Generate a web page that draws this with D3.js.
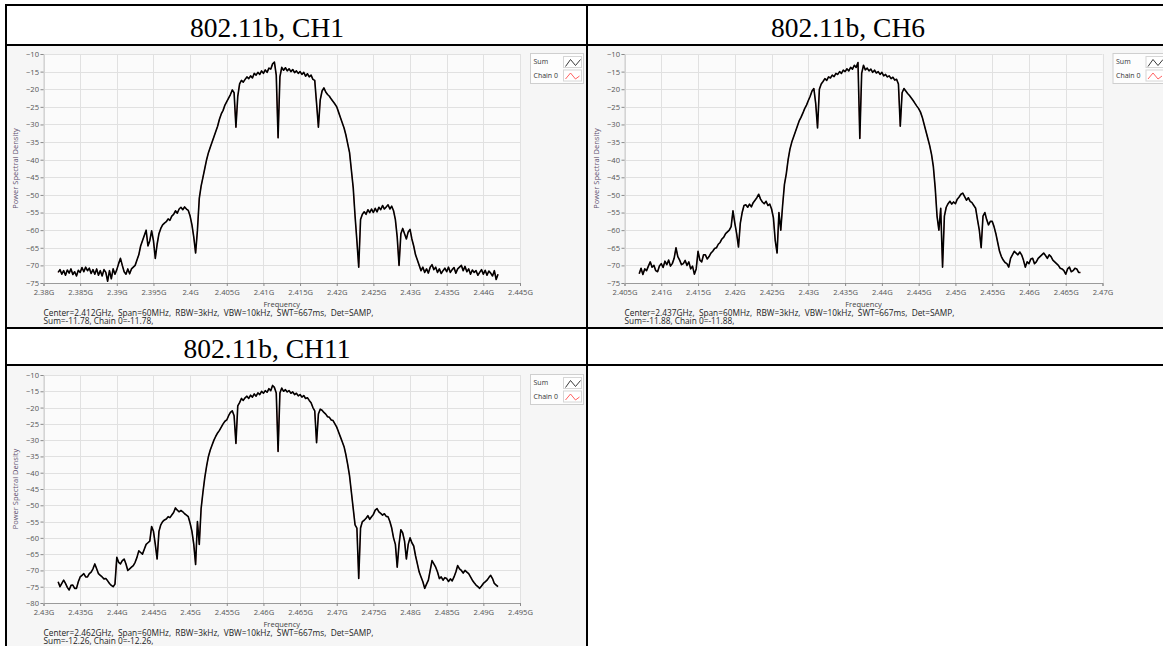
<!DOCTYPE html>
<html>
<head>
<meta charset="utf-8">
<script src="https://cdn.jsdelivr.net/npm/d3@7"></script>
<style>
  html, body { margin: 0; padding: 0; background: #ffffff; }
  svg { display: block; }
</style>
</head>
<body>
<svg id="chart" width="1163" height="646"></svg>
<script>
// ---- data -------------------------------------------------------------
const panelTitles = ["802.11b, CH1", "802.11b, CH6", "802.11b, CH11"];
const centerGHz = [2.412, 2.437, 2.462];
const spanGHz = 0.060;
const sweepStepGHz = 0.00025;

const xTicksCH1 = [2.38, 2.385, 2.39, 2.395, 2.4, 2.405, 2.41, 2.415, 2.42, 2.425, 2.43, 2.435, 2.44, 2.445];
const xTicksCH6 = [2.405, 2.41, 2.415, 2.42, 2.425, 2.43, 2.435, 2.44, 2.445, 2.45, 2.455, 2.46, 2.465, 2.47];
const xTicksCH11 = [2.43, 2.435, 2.44, 2.445, 2.45, 2.455, 2.46, 2.465, 2.47, 2.475, 2.48, 2.485, 2.49, 2.495];
const yTicksCH1 = [-10, -15, -20, -25, -30, -35, -40, -45, -50, -55, -60, -65, -70, -75];
const yTicksCH6 = [-10, -15, -20, -25, -30, -35, -40, -45, -50, -55, -60, -65, -70, -75];
const yTicksCH11 = [-10, -15, -20, -25, -30, -35, -40, -45, -50, -55, -60, -65, -70, -75, -80];

const infoCH1 = ["Center=2.412GHz,  Span=60MHz,  RBW=3kHz,  VBW=10kHz,  SWT=667ms,  Det=SAMP,", "Sum=-11.78, Chain 0=-11.78,"];
const infoCH6 = ["Center=2.437GHz,  Span=60MHz,  RBW=3kHz,  VBW=10kHz,  SWT=667ms,  Det=SAMP,", "Sum=-11.88, Chain 0=-11.88,"];
const infoCH11 = ["Center=2.462GHz,  Span=60MHz,  RBW=3kHz,  VBW=10kHz,  SWT=667ms,  Det=SAMP,", "Sum=-12.26, Chain 0=-12.26,"];

const legendNames = ["Sum", "Chain 0"];

// power spectral density, one sample every 0.25 MHz across the 60 MHz span
const psdCH1 = [
  -72, -71.2, -72.5, -71.5,   -72.8, -71.3, -72.2, -71,   -72.6, -71.8, -73, -71.4,
  -72, -70.6, -71.8, -70.5,   -71.5, -70.8, -72.3, -71.2, -72.5, -71, -72.8, -71.5,
  -73, -71.2, -72, -74.5,     -71.5, -73.8, -71, -72.5,   -71.2, -69.5, -68, -70,
  -71.8, -72.5, -71, -72.4,   -71, -70.5, -70, -68.5,     -67, -64.5, -63, -61.5,
  -60, -64.5, -63, -60.2,     -63, -68, -64, -61,         -59.5, -58.5, -58, -57.6,
  -56.8, -57.2, -56, -55.5,   -54.5, -55.2, -54, -53.5,   -54.2, -53.4, -54, -54.4,
  -56, -58.5, -62, -66.5,     -60, -51, -47.5, -45,       -42.5, -40, -38, -36.5,
  -35, -33.5, -32, -30.5,     -28.5, -27, -26, -24.5,     -23.5, -22.5, -21.5, -20.2,
  -21, -30.8, -22, -18.5,     -17.5, -18, -17.2, -16.5,   -17, -16.2, -16.8, -15.5,
  -16, -15.2, -15.8, -14.8,   -15.5, -14.5, -15.2, -14,   -14.3, -12.8, -12.3, -16,
  -33.8, -16.5, -13.8, -14.6, -13.9, -14.8, -14.2, -15,   -14.4, -15.3, -14.8, -15.5,
  -15, -15.8, -15.2, -16.3,   -15.6, -16.5, -16, -17.2,   -17.5, -24, -30.8, -23,
  -20.5, -19.6, -20.8, -21.5, -22, -22.8, -23.5, -24.2,   -25, -26.5, -28, -29.5,
  -31, -33, -35.5, -38,       -43, -48, -56, -63,         -70.5, -57, -55.5, -54.8,
  -55.5, -54.2, -55, -54,     -55, -53.8, -54.8, -53.5,   -54.2, -53, -54, -53.4,
  -52.8, -54, -53.2, -54.5,   -57, -62, -70, -61,         -59.5, -61, -62.5, -60.5,
  -59.8, -62.5, -64.5, -67,   -68.5, -70, -71.5, -70.5,   -72, -71, -72.2, -70.5,
  -69.8, -71.2, -70.5, -72,   -71, -72.3, -71.5, -70.8,   -71.8, -70.5, -72, -71.2,
  -70.6, -72.2, -71, -70.5,   -70, -71.5, -70.3, -71.8,   -71, -72.5, -71.3, -72,
  -71.5, -72.8, -72, -71.2,   -72.5, -71.4, -72.8, -71.6, -72.2, -73, -71.5, -74,
  -72.5
];

const psdCH6 = [
  -72.4, -70.8, -72.6, -71,   -71.5, -70.2, -69, -70.5,   -70, -71.5, -71.8, -70.2,
  -69.5, -70.6, -68.8, -69.8, -68.5, -70.2, -69.5, -68,   -65, -67.5, -68.5, -69.8,
  -69.5, -68.6, -70, -69,     -71, -70.2, -72.5, -71,     -66, -68.5, -69, -67,
  -67, -68.2, -67.5, -66.5,   -66, -65.2, -65, -64,       -63.5, -62.5, -62, -61,
  -60.5, -60, -59, -54.5,     -58, -61, -64.8, -58,       -55, -53, -52.8, -53.5,
  -52.6, -53.4, -52.2, -51.5, -50.8, -49.8, -51.2, -52,   -52.5, -51.8, -53, -52.6,
  -54, -56.5, -63, -66.5,     -55, -60, -53, -47,         -44, -40, -37, -35,
  -33.5, -32, -30.5, -29,     -28, -26.8, -25.5, -24.5,   -23.2, -22, -20.5, -19.8,
  -24, -31, -20, -18.5,       -17.8, -17, -17.5, -16.5,   -16.8, -16, -16.4, -15.5,
  -15.8, -15, -15.5, -14.6,   -15, -14.2, -14.8, -13.8,   -14.3, -13.2, -13.8, -12.4,
  -34, -15.5, -13.2, -14.5,   -14, -14.8, -14.3, -15.2,   -14.6, -15.4, -15, -15.8,
  -15.2, -16.2, -15.8, -16.5, -16.2, -17, -16.6, -17.4,   -17.2, -18.5, -30.5, -21,
  -19.8, -20.5, -21.2, -21.8, -22.5, -23.2, -24, -24.8,   -25.5, -26.5, -28, -30,
  -32, -34, -36, -38.5,       -42, -48, -56, -60,         -53.8, -70.5, -56, -53.5,
  -52.5, -51.8, -52.6, -52,   -52.5, -51.2, -50.6, -49.8, -49.5, -50.5, -51.5, -50.8,
  -51.8, -52.2, -53, -53.8,   -57, -60, -65, -56,         -55, -57, -58.5, -57.5,
  -57.5, -59, -61, -63.5,     -66, -67.5, -68.5, -69.2,   -69.5, -70.5, -68, -67,
  -66, -66.5, -67, -66.2,     -67, -68.5, -70.5, -69,     -69.5, -68.2, -68, -69.5,
  -69, -68, -67.5, -67,       -66.5, -67.2, -68, -67,     -67.5, -68.5, -69, -69.5,
  -70, -70.8, -71, -71.5,     -72.5, -71, -70.5, -71.8,   -71.5, -70.8, -71, -72,
  -72
];

const psdCH11 = [
  -73.5, -75, -74, -73,       -74, -75.2, -76, -74.6,     -74.5, -75.5, -75.5, -73.5,
  -72, -71.5, -71, -72,       -72, -71, -70.5, -69.5,     -68, -69.5, -71, -71.5,
  -72, -72.6, -72.5, -73.2,   -74, -74.6, -75, -74.2,     -66, -67.5, -68, -67,
  -66.5, -68, -70, -69.5,     -69, -68.5, -67.5, -66,     -64, -64.5, -65, -63.5,
  -62, -61.5, -61, -56.5,     -58, -62, -66.5, -58,       -56, -55, -54.5, -54.2,
  -53.5, -53.8, -53, -52.2,   -50.8, -51.5, -52, -51.6,   -52, -52.6, -53, -53.5,
  -55.5, -58, -62, -68.2,     -55, -62, -51, -46,         -41.5, -38, -35, -33,
  -31.5, -30, -28.8, -27.8,   -27, -26, -25, -24.2,       -23.8, -22.5, -21.5, -21,
  -22.5, -31, -19.5, -18.5,   -17.2, -17.8, -17, -16.5,   -17.2, -16.2, -16.8, -15.8,
  -16.5, -15.5, -16, -15,     -15.6, -14.8, -15.3, -14.2, -14.8, -13.2, -13.8, -15.5,
  -33.5, -15.5, -14, -15,     -14.5, -15.2, -14.8, -15.6, -15.2, -16, -15.6, -16.4,
  -16, -16.8, -16.3, -17.2,   -17, -17.8, -18.5, -20,     -21, -30.8, -22, -20.5,
  -20.8, -21.5, -22, -22.8,   -23, -23.8, -24, -25,       -26, -27.5, -29, -30.5,
  -32, -34.5, -37.5, -41,     -46, -51, -56, -57,         -72.5, -57, -55, -54.6,
  -54, -53.2, -54.3, -53.5,   -52.8, -51.5, -51, -52,     -52.5, -53, -52.6, -53.4,
  -53.5, -55, -57, -60,       -62, -69, -62, -57.5,       -58.5, -61, -66.5, -62,
  -60, -61.5, -62.5, -65.5,   -68, -70.5, -72, -73.5,     -75.5, -74.2, -73, -70,
  -67, -68, -69, -70.5,       -72.5, -72, -73, -72.2,     -72.5, -73.4, -72.6, -73.2,
  -72, -70.5, -68.5, -69.5,   -70, -70.8, -70, -70.5,     -71, -72, -73, -73.8,
  -74.5, -75, -75.5, -74.8,   -74, -73.5, -73, -72.2,     -71.5, -72.5, -74, -74.5,
  -75
];

// ---- layout -----------------------------------------------------------
const panels = [
  { title: panelTitles[0], center: centerGHz[0], psd: psdCH1, xTicks: xTicksCH1, yTicks: yTicksCH1, info: infoCH1,
    cell: { x: 7, y: 46, w: 579, h: 281 }, plot: { x: 43.5, y: 54, w: 476.5, h: 229 } },
  { title: panelTitles[1], center: centerGHz[1], psd: psdCH6, xTicks: xTicksCH6, yTicks: yTicksCH6, info: infoCH6,
    cell: { x: 588, y: 46, w: 600, h: 281 }, plot: { x: 624.5, y: 54, w: 478, h: 229 } },
  { title: panelTitles[2], center: centerGHz[2], psd: psdCH11, xTicks: xTicksCH11, yTicks: yTicksCH11, info: infoCH11,
    cell: { x: 7, y: 366, w: 579, h: 290 }, plot: { x: 43.5, y: 375, w: 476.5, h: 228 } }
];

const titleCells = [
  { cx: 267, base: 37 },
  { cx: 848, base: 37 },
  { cx: 267, base: 358 }
];

const uiFont = "'Open Sans', 'Noto Sans', sans-serif";
const svg = d3.select("#chart");

svg.append("rect").attr("x", 0).attr("y", 0).attr("width", 1163).attr("height", 646).attr("fill", "#ffffff");

// table titles
titleCells.forEach((t, i) => {
  svg.append("text")
    .attr("x", t.cx).attr("y", t.base)
    .attr("text-anchor", "middle")
    .style("font-family", "'Liberation Serif', 'Times New Roman', serif")
    .style("font-size", "27.5px")
    .attr("fill", "#000")
    .text(panelTitles[i]);
});

const fmtG = v => (+v.toFixed(3)) + "G";

panels.forEach(p => {
  const g = svg.append("g");

  g.append("rect")
    .attr("x", p.cell.x).attr("y", p.cell.y)
    .attr("width", p.cell.w).attr("height", p.cell.h)
    .attr("fill", "#f6f6f6");

  const x = d3.scaleLinear()
    .domain([p.xTicks[0], p.xTicks[p.xTicks.length - 1]])
    .range([p.plot.x, p.plot.x + p.plot.w]);
  const y = d3.scaleLinear()
    .domain([p.yTicks[p.yTicks.length - 1], p.yTicks[0]])
    .range([p.plot.y + p.plot.h, p.plot.y]);

  g.append("rect")
    .attr("x", p.plot.x).attr("y", p.plot.y)
    .attr("width", p.plot.w).attr("height", p.plot.h)
    .attr("fill", "#fbfbfb");

  // grid
  g.append("g").selectAll("line").data(p.xTicks).join("line")
    .attr("x1", d => Math.round(x(d)) + 0.5).attr("x2", d => Math.round(x(d)) + 0.5)
    .attr("y1", p.plot.y).attr("y2", p.plot.y + p.plot.h)
    .attr("stroke", "#e1e1e1").attr("stroke-width", 1);
  g.append("g").selectAll("line").data(p.yTicks).join("line")
    .attr("y1", d => Math.round(y(d)) + 0.5).attr("y2", d => Math.round(y(d)) + 0.5)
    .attr("x1", p.plot.x).attr("x2", p.plot.x + p.plot.w)
    .attr("stroke", "#e1e1e1").attr("stroke-width", 1);

  // axes
  const xAxis = d3.axisBottom(x).tickValues(p.xTicks).tickFormat(fmtG).tickSize(3).tickPadding(3.5);
  const gx = g.append("g").attr("transform", `translate(0,${p.plot.y + p.plot.h})`).call(xAxis);
  gx.select(".domain").attr("stroke", "#9a9a9a");
  gx.selectAll(".tick line").attr("stroke", "#8a8a8a");
  gx.selectAll(".tick text").attr("fill", "#555").style("font-family", uiFont).style("font-size", "7.6px");

  const yAxis = d3.axisLeft(y).tickValues(p.yTicks).tickFormat(d3.format("d")).tickSize(3).tickPadding(1.5);
  const gy = g.append("g").attr("transform", `translate(${p.plot.x},0)`).call(yAxis);
  gy.select(".domain").attr("stroke", "#c8c8c8");
  gy.selectAll(".tick line").attr("stroke", "#8a8a8a");
  gy.selectAll(".tick text").attr("fill", "#555").style("font-family", uiFont).style("font-size", "7.6px");

  // axis titles
  g.append("text")
    .attr("transform", `translate(${p.cell.x + 10.5},${p.plot.y + p.plot.h / 2}) rotate(-90)`)
    .attr("text-anchor", "middle")
    .style("font-family", uiFont).style("font-size", "7.5px")
    .attr("fill", "#5d4f6e")
    .text("Power Spectral Density");
  g.append("text")
    .attr("x", p.plot.x + p.plot.w / 2).attr("y", p.plot.y + p.plot.h + 23.5)
    .attr("text-anchor", "middle")
    .style("font-family", uiFont).style("font-size", "7.5px")
    .attr("fill", "#444")
    .text("Frequency");

  // measurement summary
  p.info.forEach((s, k) => {
    g.append("text")
      .attr("x", p.plot.x).attr("y", p.plot.y + p.plot.h + 32.5 + k * 8.8)
      .attr("xml:space", "preserve")
      .style("white-space", "pre")
      .style("font-family", uiFont).style("font-size", "8.3px")
      .attr("fill", "#222")
      .text(s);
  });

  // traces: Chain 0 underneath, Sum on top (single chain, identical values)
  const f0 = p.center - spanGHz / 2;
  const line = d3.line()
    .x((d, i) => x(f0 + i * sweepStepGHz))
    .y(d => y(d));
  g.append("path").datum(p.psd)
    .attr("d", line).attr("fill", "none")
    .attr("stroke", "#ff5a5a").attr("stroke-width", 0.8);
  g.append("path").datum(p.psd)
    .attr("d", line).attr("fill", "none")
    .attr("stroke", "#000").attr("stroke-width", 1.6)
    .attr("stroke-linejoin", "round");

  // legend
  const lx = p.plot.x + p.plot.w + 10, ly = p.plot.y - 1;
  const lg = g.append("g").attr("transform", `translate(${lx},${ly})`);
  lg.append("rect").attr("x", 0.5).attr("y", 0.5).attr("width", 53).attr("height", 30)
    .attr("fill", "#fdfdfd").attr("stroke", "#cfcfcf");
  const iconPts = [
    [[2, 10], [7, 3], [12, 9], [17, 3]],
    [[2, 9], [7, 3], [12, 9], [16, 6]]
  ];
  const iconColor = ["#222", "#ff5050"];
  legendNames.forEach((n, k) => {
    lg.append("text").attr("x", 3.5).attr("y", 11 + k * 13.5)
      .style("font-family", uiFont).style("font-size", "7px").attr("fill", "#333").text(n);
    lg.append("rect").attr("x", 33.5).attr("y", 3.5 + k * 13.5).attr("width", 18).attr("height", 11)
      .attr("fill", "#fff").attr("stroke", "#d6d6d6");
    lg.append("path").attr("transform", `translate(33.5,${3.5 + k * 13.5})`)
      .attr("d", d3.line()(iconPts[k])).attr("fill", "none")
      .attr("stroke", iconColor[k]).attr("stroke-width", 0.9);
  });
});

// empty cells of the table
svg.append("rect").attr("x", 588).attr("y", 329).attr("width", 575).attr("height", 317).attr("fill", "#ffffff");

// table rules
const rules = [
  [5, 5, 1163, 5], [5, 45, 1163, 45], [5, 328, 1163, 328], [5, 365, 1163, 365],
  [6, 4, 6, 646], [587, 4, 587, 646]
];
svg.append("g").selectAll("line").data(rules).join("line")
  .attr("x1", d => d[0]).attr("y1", d => d[1]).attr("x2", d => d[2]).attr("y2", d => d[3])
  .attr("stroke", "#000").attr("stroke-width", 2);
</script>
</body>
</html>
